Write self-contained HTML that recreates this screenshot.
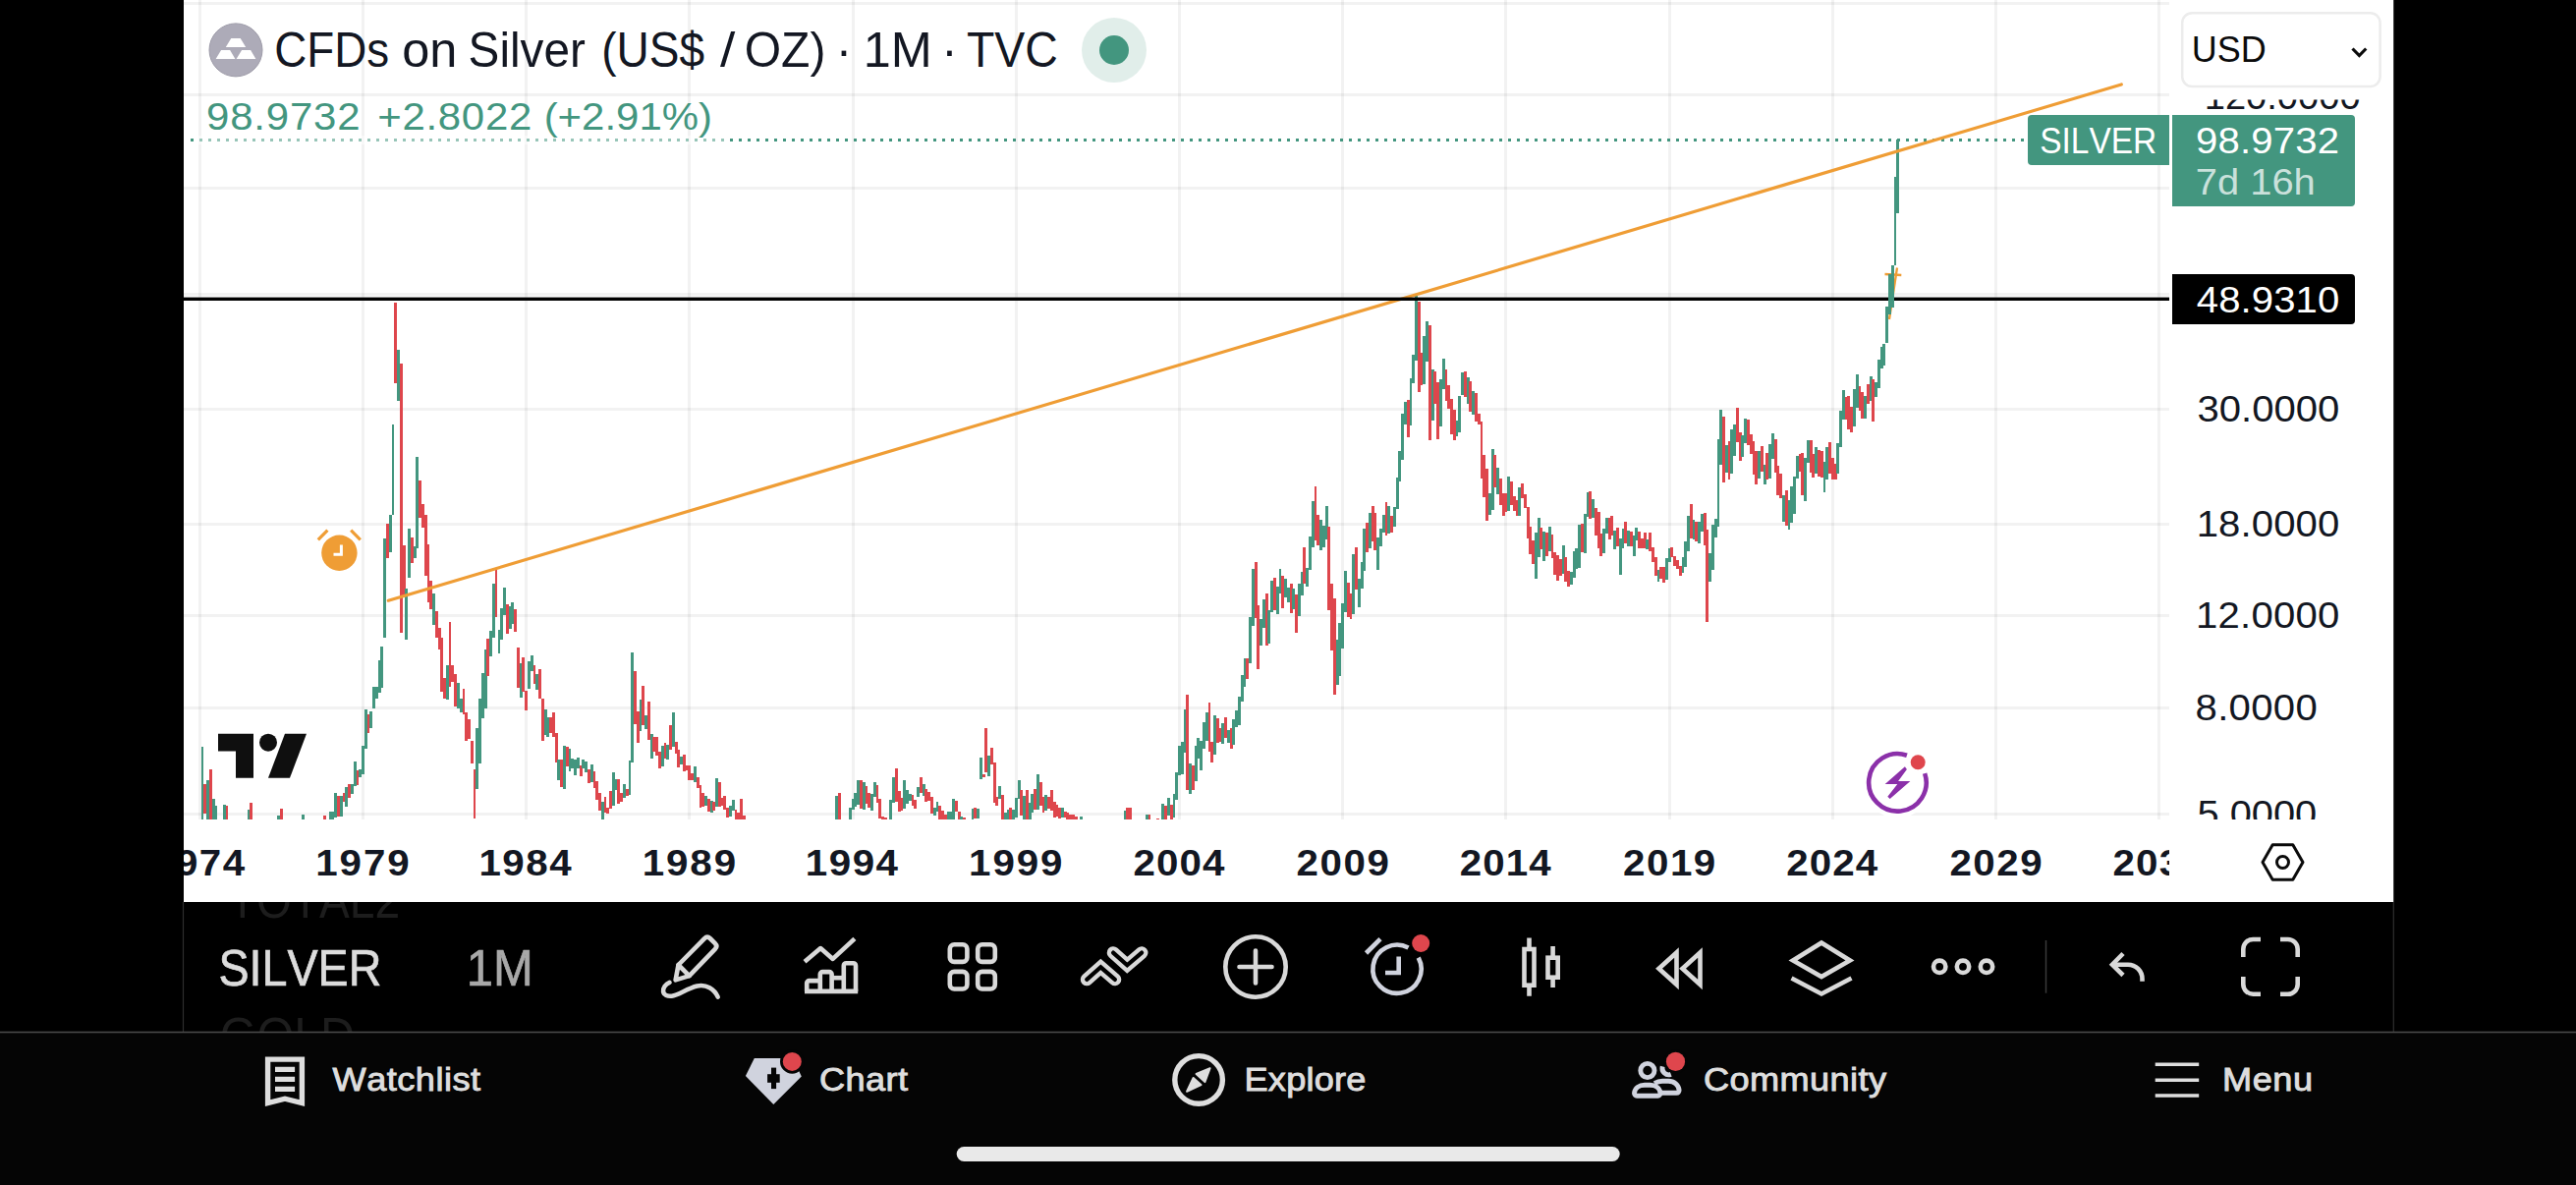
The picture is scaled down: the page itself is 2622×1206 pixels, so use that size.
<!DOCTYPE html>
<html lang="en"><head><meta charset="utf-8"><title>CFDs on Silver</title>
<style>html,body{margin:0;padding:0;background:#000;}body{width:2622px;height:1206px;overflow:hidden;}</style></head>
<body>
<svg width="2622" height="1206" viewBox="0 0 2622 1206" font-family="'Liberation Sans', sans-serif" style="display:block;font-kerning:none;font-variant-ligatures:none">
<defs>
<clipPath id="plot"><rect x="187" y="0" width="2021" height="834"/></clipPath>
<clipPath id="taxis"><rect x="187" y="834" width="2021" height="84"/></clipPath>
<clipPath id="paxis"><rect x="2208" y="101.4" width="228.25" height="732.6"/></clipPath>
<clipPath id="tb"><rect x="187" y="918" width="2249.25" height="132"/></clipPath>
</defs>
<rect width="2622" height="1206" fill="#000"/>
<rect x="187" y="0" width="2249.25" height="918" fill="#fff"/>
<g clip-path="url(#plot)" fill="rgba(20,20,24,0.055)" shape-rendering="crispEdges">
<rect x="202" y="0" width="3" height="834"/>
<rect x="368" y="0" width="3" height="834"/>
<rect x="534" y="0" width="3" height="834"/>
<rect x="700" y="0" width="3" height="834"/>
<rect x="867" y="0" width="3" height="834"/>
<rect x="1033" y="0" width="3" height="834"/>
<rect x="1199" y="0" width="3" height="834"/>
<rect x="1365" y="0" width="3" height="834"/>
<rect x="1531" y="0" width="3" height="834"/>
<rect x="1698" y="0" width="3" height="834"/>
<rect x="1864" y="0" width="3" height="834"/>
<rect x="2030" y="0" width="3" height="834"/>
<rect x="2196" y="0" width="3" height="834"/>
<rect x="187" y="2" width="2021" height="3"/>
<rect x="187" y="95" width="2021" height="3"/>
<rect x="187" y="190" width="2021" height="3"/>
<rect x="187" y="298" width="2021" height="3"/>
<rect x="187" y="415" width="2021" height="3"/>
<rect x="187" y="532" width="2021" height="3"/>
<rect x="187" y="625" width="2021" height="3"/>
<rect x="187" y="719" width="2021" height="3"/>
<rect x="187" y="827" width="2021" height="3"/>
</g>
<line x1="194" y1="142.5" x2="2064" y2="142.5" stroke="#43967f" stroke-width="3" stroke-dasharray="3 6"/>
<rect x="200" y="138" width="542" height="9" fill="#fff" opacity="0.45"/>
<g clip-path="url(#plot)" shape-rendering="crispEdges">
<rect x="205.32" y="760.3" width="1.5" height="73.6" fill="#43967f"/>
<rect x="207.39" y="798.1" width="2.9" height="29.7" fill="#de464c"/>
<rect x="210.16" y="794.1" width="2.9" height="39.8" fill="#43967f"/>
<rect x="212.93" y="783.3" width="2.9" height="50.6" fill="#de464c"/>
<rect x="215.70" y="813.0" width="2.9" height="20.9" fill="#43967f"/>
<rect x="218.47" y="820.4" width="2.9" height="13.5" fill="#43967f"/>
<rect x="226.78" y="819.0" width="2.9" height="14.8" fill="#43967f"/>
<rect x="229.55" y="820.4" width="2.9" height="13.5" fill="#de464c"/>
<rect x="251.71" y="824.2" width="2.9" height="9.7" fill="#43967f"/>
<rect x="254.48" y="817.0" width="2.9" height="16.9" fill="#de464c"/>
<rect x="282.18" y="829.8" width="2.9" height="4.0" fill="#43967f"/>
<rect x="284.95" y="823.1" width="2.9" height="10.8" fill="#de464c"/>
<rect x="307.11" y="829.2" width="2.9" height="4.7" fill="#43967f"/>
<rect x="329.27" y="830.1" width="2.9" height="3.8" fill="#de464c"/>
<rect x="334.81" y="826.2" width="2.9" height="7.7" fill="#43967f"/>
<rect x="337.58" y="826.2" width="2.9" height="7.7" fill="#43967f"/>
<rect x="340.35" y="806.9" width="2.9" height="25.0" fill="#43967f"/>
<rect x="343.12" y="810.3" width="2.9" height="20.9" fill="#de464c"/>
<rect x="345.89" y="810.3" width="2.9" height="20.2" fill="#43967f"/>
<rect x="348.66" y="806.9" width="2.9" height="9.4" fill="#de464c"/>
<rect x="351.43" y="801.2" width="2.9" height="19.4" fill="#43967f"/>
<rect x="354.20" y="798.1" width="2.9" height="13.5" fill="#de464c"/>
<rect x="356.97" y="798.1" width="2.9" height="10.1" fill="#43967f"/>
<rect x="359.74" y="775.2" width="2.9" height="24.3" fill="#43967f"/>
<rect x="362.51" y="783.9" width="2.9" height="14.8" fill="#de464c"/>
<rect x="365.28" y="783.3" width="2.9" height="8.1" fill="#43967f"/>
<rect x="368.05" y="759.4" width="2.9" height="28.6" fill="#43967f"/>
<rect x="370.82" y="722.1" width="2.9" height="40.2" fill="#43967f"/>
<rect x="373.59" y="727.0" width="2.9" height="18.8" fill="#de464c"/>
<rect x="376.36" y="724.3" width="2.9" height="16.5" fill="#43967f"/>
<rect x="379.13" y="699.3" width="2.9" height="21.2" fill="#43967f"/>
<rect x="381.90" y="699.3" width="2.9" height="11.5" fill="#43967f"/>
<rect x="384.67" y="671.9" width="2.9" height="32.8" fill="#43967f"/>
<rect x="387.44" y="658.1" width="2.9" height="41.4" fill="#43967f"/>
<rect x="390.21" y="548.0" width="2.9" height="100.8" fill="#43967f"/>
<rect x="392.98" y="533.2" width="2.9" height="34.6" fill="#de464c"/>
<rect x="395.75" y="524.2" width="2.9" height="37.6" fill="#43967f"/>
<rect x="398.52" y="432.1" width="2.9" height="91.5" fill="#43967f"/>
<rect x="401.29" y="308.2" width="2.9" height="81.7" fill="#de464c"/>
<rect x="404.06" y="356.1" width="2.9" height="51.7" fill="#43967f"/>
<rect x="406.83" y="370.1" width="2.9" height="273.7" fill="#de464c"/>
<rect x="409.60" y="555.1" width="2.9" height="51.5" fill="#de464c"/>
<rect x="412.37" y="599.2" width="2.9" height="51.7" fill="#43967f"/>
<rect x="415.14" y="537.9" width="2.9" height="49.8" fill="#43967f"/>
<rect x="417.91" y="547.2" width="2.9" height="25.7" fill="#de464c"/>
<rect x="420.68" y="556.0" width="2.9" height="11.8" fill="#43967f"/>
<rect x="423.45" y="465.2" width="2.9" height="92.5" fill="#43967f"/>
<rect x="426.22" y="489.3" width="2.9" height="37.6" fill="#de464c"/>
<rect x="428.99" y="513.3" width="2.9" height="23.6" fill="#de464c"/>
<rect x="431.76" y="523.6" width="2.9" height="62.5" fill="#de464c"/>
<rect x="434.53" y="554.3" width="2.9" height="58.2" fill="#de464c"/>
<rect x="437.30" y="590.6" width="2.9" height="29.2" fill="#de464c"/>
<rect x="440.07" y="604.4" width="2.9" height="31.4" fill="#43967f"/>
<rect x="442.84" y="621.5" width="2.9" height="27.4" fill="#de464c"/>
<rect x="445.61" y="638.7" width="2.9" height="21.9" fill="#de464c"/>
<rect x="448.38" y="649.3" width="2.9" height="54.9" fill="#de464c"/>
<rect x="451.15" y="690.3" width="2.9" height="20.6" fill="#de464c"/>
<rect x="453.92" y="677.1" width="2.9" height="34.6" fill="#43967f"/>
<rect x="457.39" y="633.2" width="1.5" height="65.8" fill="#de464c"/>
<rect x="459.46" y="677.1" width="2.9" height="16.9" fill="#de464c"/>
<rect x="462.23" y="686.1" width="2.9" height="32.9" fill="#de464c"/>
<rect x="465.00" y="694.9" width="2.9" height="26.2" fill="#43967f"/>
<rect x="467.77" y="711.2" width="2.9" height="13.5" fill="#43967f"/>
<rect x="470.54" y="701.1" width="2.9" height="25.8" fill="#de464c"/>
<rect x="473.31" y="725.3" width="2.9" height="28.7" fill="#de464c"/>
<rect x="476.08" y="732.0" width="2.9" height="19.8" fill="#de464c"/>
<rect x="478.85" y="754.3" width="2.9" height="22.8" fill="#de464c"/>
<rect x="482.32" y="783.2" width="1.5" height="49.6" fill="#de464c"/>
<rect x="484.39" y="740.5" width="2.9" height="62.5" fill="#43967f"/>
<rect x="487.16" y="710.9" width="2.9" height="65.8" fill="#43967f"/>
<rect x="489.93" y="685.2" width="2.9" height="45.9" fill="#43967f"/>
<rect x="492.70" y="661.1" width="2.9" height="59.9" fill="#43967f"/>
<rect x="495.47" y="650.1" width="2.9" height="37.6" fill="#de464c"/>
<rect x="498.24" y="641.7" width="2.9" height="26.2" fill="#43967f"/>
<rect x="501.01" y="593.5" width="2.9" height="55.0" fill="#43967f"/>
<rect x="504.48" y="579.3" width="1.5" height="48.5" fill="#de464c"/>
<rect x="506.55" y="641.2" width="2.9" height="23.6" fill="#43967f"/>
<rect x="509.32" y="619.3" width="2.9" height="32.1" fill="#43967f"/>
<rect x="512.09" y="598.2" width="2.9" height="27.4" fill="#43967f"/>
<rect x="514.86" y="615.1" width="2.9" height="29.5" fill="#de464c"/>
<rect x="517.63" y="617.1" width="2.9" height="22.5" fill="#43967f"/>
<rect x="520.40" y="613.4" width="2.9" height="21.9" fill="#43967f"/>
<rect x="523.17" y="620.1" width="2.9" height="22.5" fill="#de464c"/>
<rect x="525.94" y="659.4" width="2.9" height="40.5" fill="#de464c"/>
<rect x="528.71" y="675.1" width="2.9" height="34.4" fill="#43967f"/>
<rect x="531.48" y="669.0" width="2.9" height="35.1" fill="#de464c"/>
<rect x="534.25" y="703.3" width="2.9" height="19.4" fill="#de464c"/>
<rect x="537.02" y="672.9" width="2.9" height="27.9" fill="#43967f"/>
<rect x="539.79" y="667.0" width="2.9" height="16.0" fill="#43967f"/>
<rect x="542.56" y="677.1" width="2.9" height="18.6" fill="#de464c"/>
<rect x="545.33" y="686.4" width="2.9" height="15.2" fill="#43967f"/>
<rect x="548.10" y="681.4" width="2.9" height="29.5" fill="#de464c"/>
<rect x="550.87" y="711.2" width="2.9" height="42.7" fill="#de464c"/>
<rect x="553.64" y="722.4" width="2.9" height="25.7" fill="#43967f"/>
<rect x="556.41" y="730.3" width="2.9" height="19.4" fill="#43967f"/>
<rect x="559.18" y="730.3" width="2.9" height="16.0" fill="#de464c"/>
<rect x="561.95" y="725.3" width="2.9" height="24.5" fill="#de464c"/>
<rect x="564.72" y="746.4" width="2.9" height="29.5" fill="#de464c"/>
<rect x="567.49" y="772.5" width="2.9" height="21.4" fill="#43967f"/>
<rect x="570.26" y="773.4" width="2.9" height="27.9" fill="#de464c"/>
<rect x="573.03" y="759.4" width="2.9" height="43.6" fill="#43967f"/>
<rect x="575.80" y="760.2" width="2.9" height="19.9" fill="#de464c"/>
<rect x="578.57" y="762.4" width="2.9" height="22.8" fill="#43967f"/>
<rect x="581.34" y="771.7" width="2.9" height="10.1" fill="#43967f"/>
<rect x="584.11" y="772.5" width="2.9" height="16.4" fill="#43967f"/>
<rect x="586.88" y="771.4" width="2.9" height="10.5" fill="#43967f"/>
<rect x="589.65" y="779.3" width="2.9" height="10.6" fill="#de464c"/>
<rect x="592.42" y="773.4" width="2.9" height="8.4" fill="#43967f"/>
<rect x="595.19" y="775.1" width="2.9" height="11.0" fill="#43967f"/>
<rect x="597.96" y="783.2" width="2.9" height="13.8" fill="#de464c"/>
<rect x="600.73" y="778.4" width="2.9" height="17.7" fill="#43967f"/>
<rect x="603.50" y="785.2" width="2.9" height="16.9" fill="#de464c"/>
<rect x="606.27" y="795.3" width="2.9" height="18.6" fill="#de464c"/>
<rect x="609.04" y="807.1" width="2.9" height="17.7" fill="#de464c"/>
<rect x="611.81" y="815.9" width="2.9" height="17.9" fill="#43967f"/>
<rect x="614.58" y="811.4" width="2.9" height="15.2" fill="#de464c"/>
<rect x="617.35" y="822.3" width="2.9" height="5.4" fill="#de464c"/>
<rect x="620.12" y="805.1" width="2.9" height="18.1" fill="#de464c"/>
<rect x="622.89" y="786.0" width="2.9" height="33.8" fill="#43967f"/>
<rect x="625.66" y="792.8" width="2.9" height="11.0" fill="#43967f"/>
<rect x="628.43" y="793.3" width="2.9" height="24.3" fill="#de464c"/>
<rect x="631.20" y="807.1" width="2.9" height="8.8" fill="#de464c"/>
<rect x="633.97" y="798.2" width="2.9" height="13.7" fill="#43967f"/>
<rect x="636.74" y="803.4" width="2.9" height="6.2" fill="#de464c"/>
<rect x="639.51" y="774.2" width="2.9" height="34.6" fill="#43967f"/>
<rect x="642.28" y="664.1" width="2.9" height="111.4" fill="#43967f"/>
<rect x="645.05" y="683.1" width="2.9" height="54.0" fill="#de464c"/>
<rect x="647.82" y="723.9" width="2.9" height="31.7" fill="#de464c"/>
<rect x="650.59" y="712.3" width="2.9" height="31.6" fill="#43967f"/>
<rect x="653.36" y="698.2" width="2.9" height="39.7" fill="#de464c"/>
<rect x="656.13" y="728.1" width="2.9" height="13.7" fill="#43967f"/>
<rect x="658.90" y="713.9" width="2.9" height="38.8" fill="#de464c"/>
<rect x="661.67" y="747.2" width="2.9" height="24.5" fill="#43967f"/>
<rect x="664.44" y="750.1" width="2.9" height="14.5" fill="#de464c"/>
<rect x="667.21" y="750.1" width="2.9" height="18.6" fill="#de464c"/>
<rect x="669.98" y="764.9" width="2.9" height="16.9" fill="#de464c"/>
<rect x="672.75" y="759.0" width="2.9" height="20.8" fill="#43967f"/>
<rect x="675.52" y="756.2" width="2.9" height="15.9" fill="#de464c"/>
<rect x="678.29" y="758.2" width="2.9" height="14.9" fill="#43967f"/>
<rect x="681.06" y="738.3" width="2.9" height="24.6" fill="#de464c"/>
<rect x="683.83" y="725.3" width="2.9" height="34.6" fill="#43967f"/>
<rect x="686.60" y="754.5" width="2.9" height="12.2" fill="#de464c"/>
<rect x="689.37" y="763.2" width="2.9" height="17.7" fill="#de464c"/>
<rect x="692.14" y="770.0" width="2.9" height="8.1" fill="#43967f"/>
<rect x="694.91" y="768.3" width="2.9" height="16.5" fill="#de464c"/>
<rect x="697.68" y="778.8" width="2.9" height="4.7" fill="#de464c"/>
<rect x="700.45" y="779.3" width="2.9" height="14.7" fill="#de464c"/>
<rect x="703.22" y="786.5" width="2.9" height="7.1" fill="#de464c"/>
<rect x="705.99" y="780.1" width="2.9" height="15.7" fill="#43967f"/>
<rect x="708.76" y="791.1" width="2.9" height="11.0" fill="#de464c"/>
<rect x="711.53" y="799.0" width="2.9" height="23.0" fill="#de464c"/>
<rect x="714.30" y="807.1" width="2.9" height="13.8" fill="#de464c"/>
<rect x="717.07" y="810.2" width="2.9" height="9.6" fill="#43967f"/>
<rect x="719.84" y="813.1" width="2.9" height="13.0" fill="#de464c"/>
<rect x="722.61" y="815.2" width="2.9" height="11.8" fill="#43967f"/>
<rect x="725.38" y="815.9" width="2.9" height="8.9" fill="#de464c"/>
<rect x="728.15" y="792.3" width="2.9" height="28.4" fill="#43967f"/>
<rect x="730.92" y="796.2" width="2.9" height="24.5" fill="#de464c"/>
<rect x="733.69" y="812.2" width="2.9" height="8.1" fill="#de464c"/>
<rect x="736.46" y="810.2" width="2.9" height="13.5" fill="#de464c"/>
<rect x="739.23" y="821.5" width="2.9" height="10.6" fill="#de464c"/>
<rect x="742.00" y="820.3" width="2.9" height="10.5" fill="#43967f"/>
<rect x="744.77" y="814.2" width="2.9" height="10.6" fill="#43967f"/>
<rect x="747.54" y="824.0" width="2.9" height="9.8" fill="#de464c"/>
<rect x="750.31" y="827.1" width="2.9" height="6.8" fill="#de464c"/>
<rect x="753.08" y="813.1" width="2.9" height="20.8" fill="#de464c"/>
<rect x="755.85" y="830.4" width="2.9" height="3.4" fill="#de464c"/>
<rect x="850.03" y="810.2" width="2.9" height="23.6" fill="#43967f"/>
<rect x="852.80" y="807.1" width="2.9" height="26.7" fill="#de464c"/>
<rect x="863.88" y="822.3" width="2.9" height="11.5" fill="#43967f"/>
<rect x="866.65" y="813.1" width="2.9" height="11.0" fill="#43967f"/>
<rect x="869.42" y="807.1" width="2.9" height="13.5" fill="#43967f"/>
<rect x="872.19" y="794.0" width="2.9" height="25.3" fill="#43967f"/>
<rect x="874.96" y="794.0" width="2.9" height="29.2" fill="#de464c"/>
<rect x="877.73" y="796.2" width="2.9" height="27.9" fill="#43967f"/>
<rect x="880.50" y="800.1" width="2.9" height="18.1" fill="#de464c"/>
<rect x="883.27" y="807.1" width="2.9" height="14.9" fill="#de464c"/>
<rect x="886.04" y="807.5" width="2.9" height="17.4" fill="#43967f"/>
<rect x="888.81" y="796.2" width="2.9" height="14.4" fill="#43967f"/>
<rect x="891.58" y="799.0" width="2.9" height="17.9" fill="#de464c"/>
<rect x="894.35" y="813.1" width="2.9" height="19.8" fill="#de464c"/>
<rect x="897.12" y="831.1" width="2.9" height="2.7" fill="#de464c"/>
<rect x="899.89" y="832.1" width="2.9" height="1.7" fill="#de464c"/>
<rect x="905.43" y="814.2" width="2.9" height="19.6" fill="#43967f"/>
<rect x="908.20" y="791.1" width="2.9" height="25.8" fill="#43967f"/>
<rect x="910.97" y="782.2" width="2.9" height="33.4" fill="#de464c"/>
<rect x="913.74" y="804.6" width="2.9" height="21.4" fill="#de464c"/>
<rect x="916.51" y="812.2" width="2.9" height="12.7" fill="#de464c"/>
<rect x="919.28" y="794.0" width="2.9" height="29.2" fill="#43967f"/>
<rect x="922.05" y="803.8" width="2.9" height="14.4" fill="#43967f"/>
<rect x="924.82" y="808.0" width="2.9" height="6.8" fill="#43967f"/>
<rect x="927.59" y="809.3" width="2.9" height="10.5" fill="#de464c"/>
<rect x="930.36" y="814.2" width="2.9" height="8.9" fill="#de464c"/>
<rect x="933.13" y="801.2" width="2.9" height="9.6" fill="#43967f"/>
<rect x="935.90" y="791.1" width="2.9" height="16.0" fill="#de464c"/>
<rect x="938.67" y="798.2" width="2.9" height="11.5" fill="#43967f"/>
<rect x="941.44" y="803.3" width="2.9" height="12.7" fill="#de464c"/>
<rect x="944.21" y="806.3" width="2.9" height="8.9" fill="#de464c"/>
<rect x="946.98" y="811.4" width="2.9" height="16.9" fill="#de464c"/>
<rect x="949.75" y="821.5" width="2.9" height="8.4" fill="#43967f"/>
<rect x="952.52" y="815.9" width="2.9" height="9.8" fill="#43967f"/>
<rect x="955.29" y="820.3" width="2.9" height="13.5" fill="#de464c"/>
<rect x="958.06" y="825.4" width="2.9" height="8.4" fill="#de464c"/>
<rect x="960.83" y="829.1" width="2.9" height="4.7" fill="#de464c"/>
<rect x="963.60" y="826.1" width="2.9" height="7.8" fill="#43967f"/>
<rect x="966.37" y="826.1" width="2.9" height="7.8" fill="#43967f"/>
<rect x="969.14" y="813.1" width="2.9" height="20.8" fill="#43967f"/>
<rect x="971.91" y="815.2" width="2.9" height="10.8" fill="#de464c"/>
<rect x="974.68" y="826.1" width="2.9" height="7.8" fill="#de464c"/>
<rect x="977.45" y="831.1" width="2.9" height="2.7" fill="#43967f"/>
<rect x="980.22" y="832.1" width="2.9" height="1.7" fill="#de464c"/>
<rect x="988.53" y="823.2" width="2.9" height="10.6" fill="#43967f"/>
<rect x="991.30" y="822.3" width="2.9" height="10.5" fill="#de464c"/>
<rect x="994.07" y="823.2" width="2.9" height="9.6" fill="#43967f"/>
<rect x="996.84" y="771.2" width="2.9" height="21.6" fill="#43967f"/>
<rect x="999.61" y="788.2" width="2.9" height="2.5" fill="#de464c"/>
<rect x="1002.38" y="741.3" width="2.9" height="44.2" fill="#de464c"/>
<rect x="1005.15" y="769.2" width="2.9" height="20.6" fill="#43967f"/>
<rect x="1007.92" y="761.1" width="2.9" height="16.5" fill="#de464c"/>
<rect x="1010.69" y="776.4" width="2.9" height="40.5" fill="#de464c"/>
<rect x="1013.46" y="811.4" width="2.9" height="8.4" fill="#de464c"/>
<rect x="1016.23" y="800.1" width="2.9" height="13.0" fill="#43967f"/>
<rect x="1019.00" y="809.3" width="2.9" height="24.5" fill="#de464c"/>
<rect x="1021.77" y="826.6" width="2.9" height="7.3" fill="#43967f"/>
<rect x="1024.54" y="824.0" width="2.9" height="9.8" fill="#43967f"/>
<rect x="1027.31" y="821.5" width="2.9" height="12.3" fill="#de464c"/>
<rect x="1030.08" y="824.4" width="2.9" height="9.5" fill="#43967f"/>
<rect x="1032.85" y="812.2" width="2.9" height="19.4" fill="#43967f"/>
<rect x="1035.62" y="794.0" width="2.9" height="19.1" fill="#43967f"/>
<rect x="1038.39" y="804.1" width="2.9" height="25.8" fill="#de464c"/>
<rect x="1041.16" y="810.2" width="2.9" height="23.6" fill="#43967f"/>
<rect x="1043.93" y="804.1" width="2.9" height="29.7" fill="#de464c"/>
<rect x="1046.70" y="817.3" width="2.9" height="16.5" fill="#43967f"/>
<rect x="1049.47" y="808.3" width="2.9" height="18.7" fill="#43967f"/>
<rect x="1052.24" y="803.3" width="2.9" height="20.8" fill="#de464c"/>
<rect x="1055.01" y="788.2" width="2.9" height="35.5" fill="#43967f"/>
<rect x="1057.78" y="796.2" width="2.9" height="23.6" fill="#de464c"/>
<rect x="1060.55" y="811.4" width="2.9" height="15.2" fill="#de464c"/>
<rect x="1063.32" y="809.3" width="2.9" height="16.0" fill="#43967f"/>
<rect x="1066.09" y="810.5" width="2.9" height="12.7" fill="#de464c"/>
<rect x="1068.86" y="804.1" width="2.9" height="20.8" fill="#de464c"/>
<rect x="1071.63" y="816.4" width="2.9" height="15.2" fill="#de464c"/>
<rect x="1074.40" y="819.3" width="2.9" height="11.5" fill="#de464c"/>
<rect x="1077.17" y="822.3" width="2.9" height="10.5" fill="#de464c"/>
<rect x="1079.94" y="822.3" width="2.9" height="10.1" fill="#43967f"/>
<rect x="1082.71" y="826.1" width="2.9" height="5.6" fill="#de464c"/>
<rect x="1085.48" y="827.4" width="2.9" height="6.4" fill="#de464c"/>
<rect x="1088.25" y="829.1" width="2.9" height="4.7" fill="#de464c"/>
<rect x="1091.02" y="829.4" width="2.9" height="4.4" fill="#de464c"/>
<rect x="1093.79" y="831.1" width="2.9" height="2.7" fill="#de464c"/>
<rect x="1099.33" y="831.1" width="2.9" height="2.7" fill="#43967f"/>
<rect x="1143.65" y="825.4" width="2.9" height="8.4" fill="#43967f"/>
<rect x="1146.42" y="821.5" width="2.9" height="12.3" fill="#de464c"/>
<rect x="1149.19" y="821.5" width="2.9" height="12.3" fill="#de464c"/>
<rect x="1165.81" y="829.1" width="2.9" height="4.7" fill="#43967f"/>
<rect x="1168.58" y="829.4" width="2.9" height="4.4" fill="#de464c"/>
<rect x="1176.89" y="832.8" width="2.9" height="1.0" fill="#de464c"/>
<rect x="1182.43" y="818.1" width="2.9" height="15.7" fill="#43967f"/>
<rect x="1185.20" y="820.3" width="2.9" height="13.5" fill="#de464c"/>
<rect x="1187.97" y="812.2" width="2.9" height="17.7" fill="#43967f"/>
<rect x="1190.74" y="819.3" width="2.9" height="14.5" fill="#de464c"/>
<rect x="1193.51" y="808.3" width="2.9" height="23.3" fill="#43967f"/>
<rect x="1196.28" y="786.4" width="2.9" height="27.5" fill="#43967f"/>
<rect x="1199.05" y="759.4" width="2.9" height="29.2" fill="#43967f"/>
<rect x="1201.82" y="755.3" width="2.9" height="32.4" fill="#43967f"/>
<rect x="1204.59" y="722.2" width="2.9" height="43.6" fill="#43967f"/>
<rect x="1207.36" y="707.2" width="2.9" height="96.6" fill="#de464c"/>
<rect x="1210.13" y="777.1" width="2.9" height="30.9" fill="#43967f"/>
<rect x="1212.90" y="779.3" width="2.9" height="24.5" fill="#de464c"/>
<rect x="1215.67" y="759.4" width="2.9" height="35.1" fill="#43967f"/>
<rect x="1218.44" y="751.1" width="2.9" height="20.6" fill="#43967f"/>
<rect x="1221.21" y="753.5" width="2.9" height="30.4" fill="#43967f"/>
<rect x="1223.98" y="735.4" width="2.9" height="26.2" fill="#43967f"/>
<rect x="1226.75" y="725.3" width="2.9" height="28.2" fill="#43967f"/>
<rect x="1229.52" y="715.1" width="2.9" height="49.8" fill="#de464c"/>
<rect x="1232.29" y="755.3" width="2.9" height="20.6" fill="#de464c"/>
<rect x="1235.06" y="728.1" width="2.9" height="39.7" fill="#43967f"/>
<rect x="1237.83" y="731.2" width="2.9" height="24.5" fill="#de464c"/>
<rect x="1240.60" y="740.5" width="2.9" height="14.4" fill="#de464c"/>
<rect x="1243.37" y="736.2" width="2.9" height="20.6" fill="#43967f"/>
<rect x="1246.14" y="730.3" width="2.9" height="20.3" fill="#de464c"/>
<rect x="1248.91" y="743.3" width="2.9" height="12.3" fill="#43967f"/>
<rect x="1251.68" y="740.5" width="2.9" height="21.4" fill="#de464c"/>
<rect x="1254.45" y="732.4" width="2.9" height="25.3" fill="#43967f"/>
<rect x="1257.22" y="723.2" width="2.9" height="16.4" fill="#43967f"/>
<rect x="1259.99" y="709.2" width="2.9" height="28.4" fill="#43967f"/>
<rect x="1262.76" y="687.3" width="2.9" height="26.2" fill="#43967f"/>
<rect x="1265.53" y="670.4" width="2.9" height="29.0" fill="#43967f"/>
<rect x="1268.30" y="670.4" width="2.9" height="20.3" fill="#de464c"/>
<rect x="1271.07" y="628.1" width="2.9" height="47.3" fill="#43967f"/>
<rect x="1273.84" y="579.2" width="2.9" height="57.4" fill="#43967f"/>
<rect x="1276.61" y="571.9" width="2.9" height="57.1" fill="#de464c"/>
<rect x="1279.38" y="616.3" width="2.9" height="64.5" fill="#de464c"/>
<rect x="1282.15" y="630.3" width="2.9" height="26.2" fill="#43967f"/>
<rect x="1284.92" y="610.1" width="2.9" height="29.0" fill="#43967f"/>
<rect x="1287.69" y="604.0" width="2.9" height="52.5" fill="#de464c"/>
<rect x="1290.46" y="621.4" width="2.9" height="33.3" fill="#43967f"/>
<rect x="1293.23" y="591.0" width="2.9" height="32.1" fill="#43967f"/>
<rect x="1296.00" y="588.1" width="2.9" height="32.4" fill="#de464c"/>
<rect x="1298.77" y="597.2" width="2.9" height="27.5" fill="#43967f"/>
<rect x="1301.54" y="579.2" width="2.9" height="24.5" fill="#43967f"/>
<rect x="1304.31" y="586.4" width="2.9" height="32.4" fill="#de464c"/>
<rect x="1307.08" y="589.3" width="2.9" height="18.6" fill="#43967f"/>
<rect x="1309.85" y="598.2" width="2.9" height="14.7" fill="#43967f"/>
<rect x="1312.62" y="593.8" width="2.9" height="30.1" fill="#de464c"/>
<rect x="1315.39" y="599.1" width="2.9" height="20.6" fill="#43967f"/>
<rect x="1318.16" y="605.3" width="2.9" height="38.5" fill="#de464c"/>
<rect x="1320.93" y="594.4" width="2.9" height="32.6" fill="#43967f"/>
<rect x="1323.70" y="582.0" width="2.9" height="23.6" fill="#43967f"/>
<rect x="1326.47" y="556.9" width="2.9" height="37.0" fill="#de464c"/>
<rect x="1329.24" y="577.5" width="2.9" height="19.4" fill="#43967f"/>
<rect x="1332.01" y="546.2" width="2.9" height="33.8" fill="#43967f"/>
<rect x="1334.78" y="509.9" width="2.9" height="46.8" fill="#43967f"/>
<rect x="1337.55" y="495.1" width="2.9" height="54.5" fill="#de464c"/>
<rect x="1340.32" y="523.9" width="2.9" height="31.1" fill="#de464c"/>
<rect x="1343.09" y="529.0" width="2.9" height="31.1" fill="#43967f"/>
<rect x="1345.86" y="535.3" width="2.9" height="21.9" fill="#43967f"/>
<rect x="1348.63" y="515.0" width="2.9" height="33.8" fill="#43967f"/>
<rect x="1351.40" y="536.1" width="2.9" height="84.8" fill="#de464c"/>
<rect x="1354.17" y="593.8" width="2.9" height="67.7" fill="#de464c"/>
<rect x="1356.94" y="609.0" width="2.9" height="97.6" fill="#de464c"/>
<rect x="1359.71" y="650.9" width="2.9" height="45.9" fill="#43967f"/>
<rect x="1362.48" y="634.4" width="2.9" height="53.4" fill="#43967f"/>
<rect x="1365.25" y="614.1" width="2.9" height="45.8" fill="#43967f"/>
<rect x="1368.02" y="581.2" width="2.9" height="41.9" fill="#43967f"/>
<rect x="1370.79" y="593.2" width="2.9" height="34.9" fill="#de464c"/>
<rect x="1373.56" y="604.0" width="2.9" height="26.3" fill="#de464c"/>
<rect x="1376.33" y="564.3" width="2.9" height="60.4" fill="#43967f"/>
<rect x="1379.10" y="556.9" width="2.9" height="43.1" fill="#de464c"/>
<rect x="1381.87" y="589.3" width="2.9" height="28.7" fill="#43967f"/>
<rect x="1384.64" y="572.4" width="2.9" height="27.0" fill="#43967f"/>
<rect x="1387.41" y="538.1" width="2.9" height="42.7" fill="#43967f"/>
<rect x="1390.18" y="532.2" width="2.9" height="29.5" fill="#de464c"/>
<rect x="1392.95" y="522.3" width="2.9" height="35.8" fill="#43967f"/>
<rect x="1395.72" y="515.0" width="2.9" height="36.3" fill="#de464c"/>
<rect x="1398.49" y="522.3" width="2.9" height="37.8" fill="#de464c"/>
<rect x="1401.26" y="547.1" width="2.9" height="32.9" fill="#43967f"/>
<rect x="1404.03" y="538.1" width="2.9" height="17.9" fill="#43967f"/>
<rect x="1406.80" y="523.9" width="2.9" height="18.1" fill="#43967f"/>
<rect x="1409.57" y="511.1" width="2.9" height="33.8" fill="#de464c"/>
<rect x="1412.34" y="515.0" width="2.9" height="27.9" fill="#43967f"/>
<rect x="1415.11" y="525.1" width="2.9" height="16.9" fill="#de464c"/>
<rect x="1417.88" y="516.2" width="2.9" height="19.6" fill="#43967f"/>
<rect x="1420.65" y="485.8" width="2.9" height="32.1" fill="#43967f"/>
<rect x="1423.42" y="459.3" width="2.9" height="30.9" fill="#43967f"/>
<rect x="1426.19" y="421.3" width="2.9" height="46.4" fill="#43967f"/>
<rect x="1428.96" y="409.2" width="2.9" height="22.8" fill="#43967f"/>
<rect x="1431.73" y="407.0" width="2.9" height="37.6" fill="#de464c"/>
<rect x="1434.50" y="385.2" width="2.9" height="47.6" fill="#43967f"/>
<rect x="1437.27" y="361.0" width="2.9" height="28.7" fill="#43967f"/>
<rect x="1440.04" y="299.4" width="2.9" height="67.5" fill="#43967f"/>
<rect x="1442.81" y="307.0" width="2.9" height="91.7" fill="#de464c"/>
<rect x="1445.58" y="359.0" width="2.9" height="32.8" fill="#de464c"/>
<rect x="1448.35" y="342.1" width="2.9" height="48.8" fill="#43967f"/>
<rect x="1451.12" y="326.9" width="2.9" height="40.9" fill="#43967f"/>
<rect x="1453.89" y="330.7" width="2.9" height="117.0" fill="#de464c"/>
<rect x="1456.66" y="376.2" width="2.9" height="51.8" fill="#43967f"/>
<rect x="1459.43" y="378.3" width="2.9" height="32.6" fill="#de464c"/>
<rect x="1462.20" y="388.9" width="2.9" height="57.9" fill="#de464c"/>
<rect x="1464.97" y="386.0" width="2.9" height="47.9" fill="#43967f"/>
<rect x="1467.74" y="364.9" width="2.9" height="31.1" fill="#43967f"/>
<rect x="1470.51" y="375.9" width="2.9" height="31.9" fill="#de464c"/>
<rect x="1473.28" y="391.9" width="2.9" height="24.0" fill="#de464c"/>
<rect x="1476.05" y="406.3" width="2.9" height="35.5" fill="#de464c"/>
<rect x="1478.82" y="416.8" width="2.9" height="30.9" fill="#de464c"/>
<rect x="1481.59" y="428.2" width="2.9" height="15.5" fill="#43967f"/>
<rect x="1484.36" y="403.2" width="2.9" height="36.3" fill="#43967f"/>
<rect x="1487.13" y="379.3" width="2.9" height="22.6" fill="#43967f"/>
<rect x="1489.90" y="377.9" width="2.9" height="25.8" fill="#de464c"/>
<rect x="1492.67" y="384.2" width="2.9" height="26.7" fill="#43967f"/>
<rect x="1495.44" y="388.1" width="2.9" height="30.7" fill="#de464c"/>
<rect x="1498.21" y="398.2" width="2.9" height="23.6" fill="#43967f"/>
<rect x="1500.98" y="399.9" width="2.9" height="29.0" fill="#de464c"/>
<rect x="1503.75" y="421.0" width="2.9" height="11.0" fill="#de464c"/>
<rect x="1506.52" y="428.9" width="2.9" height="57.6" fill="#de464c"/>
<rect x="1509.29" y="463.1" width="2.9" height="42.7" fill="#de464c"/>
<rect x="1512.06" y="477.1" width="2.9" height="52.7" fill="#de464c"/>
<rect x="1514.83" y="502.1" width="2.9" height="21.8" fill="#43967f"/>
<rect x="1517.60" y="456.9" width="2.9" height="62.1" fill="#43967f"/>
<rect x="1520.37" y="463.1" width="2.9" height="32.6" fill="#de464c"/>
<rect x="1523.14" y="476.0" width="2.9" height="26.8" fill="#43967f"/>
<rect x="1525.91" y="487.3" width="2.9" height="26.5" fill="#de464c"/>
<rect x="1528.68" y="502.1" width="2.9" height="22.6" fill="#de464c"/>
<rect x="1531.45" y="502.1" width="2.9" height="18.6" fill="#de464c"/>
<rect x="1534.22" y="485.1" width="2.9" height="34.6" fill="#43967f"/>
<rect x="1536.99" y="490.1" width="2.9" height="23.6" fill="#de464c"/>
<rect x="1539.76" y="504.7" width="2.9" height="15.2" fill="#de464c"/>
<rect x="1542.53" y="508.9" width="2.9" height="15.9" fill="#de464c"/>
<rect x="1545.30" y="496.1" width="2.9" height="28.7" fill="#43967f"/>
<rect x="1548.07" y="492.0" width="2.9" height="14.7" fill="#de464c"/>
<rect x="1550.84" y="503.0" width="2.9" height="13.8" fill="#de464c"/>
<rect x="1553.61" y="515.5" width="2.9" height="32.1" fill="#de464c"/>
<rect x="1556.38" y="536.2" width="2.9" height="27.5" fill="#de464c"/>
<rect x="1559.15" y="550.1" width="2.9" height="24.1" fill="#de464c"/>
<rect x="1561.92" y="542.1" width="2.9" height="46.8" fill="#43967f"/>
<rect x="1564.69" y="527.3" width="2.9" height="39.3" fill="#43967f"/>
<rect x="1567.46" y="537.1" width="2.9" height="21.9" fill="#de464c"/>
<rect x="1570.23" y="541.3" width="2.9" height="29.5" fill="#43967f"/>
<rect x="1573.00" y="542.1" width="2.9" height="23.6" fill="#de464c"/>
<rect x="1575.77" y="536.2" width="2.9" height="24.5" fill="#43967f"/>
<rect x="1578.54" y="544.2" width="2.9" height="23.6" fill="#de464c"/>
<rect x="1581.31" y="561.9" width="2.9" height="23.0" fill="#de464c"/>
<rect x="1584.08" y="564.9" width="2.9" height="25.8" fill="#de464c"/>
<rect x="1586.85" y="569.2" width="2.9" height="16.9" fill="#de464c"/>
<rect x="1589.62" y="555.3" width="2.9" height="28.2" fill="#43967f"/>
<rect x="1592.39" y="567.1" width="2.9" height="24.8" fill="#de464c"/>
<rect x="1595.16" y="581.0" width="2.9" height="16.0" fill="#de464c"/>
<rect x="1597.93" y="582.2" width="2.9" height="12.7" fill="#43967f"/>
<rect x="1600.70" y="561.1" width="2.9" height="27.2" fill="#43967f"/>
<rect x="1603.47" y="558.2" width="2.9" height="20.8" fill="#43967f"/>
<rect x="1606.24" y="534.2" width="2.9" height="43.7" fill="#43967f"/>
<rect x="1609.01" y="532.9" width="2.9" height="29.0" fill="#de464c"/>
<rect x="1611.78" y="523.1" width="2.9" height="39.7" fill="#43967f"/>
<rect x="1614.55" y="501.1" width="2.9" height="25.0" fill="#43967f"/>
<rect x="1617.32" y="499.9" width="2.9" height="27.9" fill="#de464c"/>
<rect x="1620.09" y="508.0" width="2.9" height="18.9" fill="#43967f"/>
<rect x="1622.86" y="517.2" width="2.9" height="27.5" fill="#de464c"/>
<rect x="1625.63" y="521.0" width="2.9" height="37.1" fill="#de464c"/>
<rect x="1628.40" y="543.0" width="2.9" height="22.8" fill="#de464c"/>
<rect x="1631.17" y="538.3" width="2.9" height="24.5" fill="#43967f"/>
<rect x="1633.94" y="527.3" width="2.9" height="15.4" fill="#43967f"/>
<rect x="1636.71" y="526.9" width="2.9" height="21.9" fill="#de464c"/>
<rect x="1639.48" y="524.9" width="2.9" height="20.1" fill="#de464c"/>
<rect x="1642.25" y="539.9" width="2.9" height="19.1" fill="#43967f"/>
<rect x="1645.02" y="537.1" width="2.9" height="19.1" fill="#de464c"/>
<rect x="1647.79" y="548.1" width="2.9" height="36.8" fill="#43967f"/>
<rect x="1650.56" y="538.3" width="2.9" height="19.4" fill="#43967f"/>
<rect x="1653.33" y="531.2" width="2.9" height="21.4" fill="#de464c"/>
<rect x="1656.10" y="540.1" width="2.9" height="15.9" fill="#43967f"/>
<rect x="1658.87" y="541.0" width="2.9" height="15.0" fill="#de464c"/>
<rect x="1661.64" y="545.0" width="2.9" height="20.8" fill="#43967f"/>
<rect x="1664.41" y="537.1" width="2.9" height="12.7" fill="#43967f"/>
<rect x="1667.18" y="541.0" width="2.9" height="17.2" fill="#de464c"/>
<rect x="1669.95" y="548.1" width="2.9" height="10.1" fill="#de464c"/>
<rect x="1672.72" y="542.1" width="2.9" height="16.0" fill="#de464c"/>
<rect x="1675.49" y="548.9" width="2.9" height="10.1" fill="#43967f"/>
<rect x="1678.26" y="542.1" width="2.9" height="18.6" fill="#de464c"/>
<rect x="1681.03" y="557.0" width="2.9" height="15.0" fill="#de464c"/>
<rect x="1683.80" y="567.1" width="2.9" height="18.9" fill="#de464c"/>
<rect x="1686.57" y="579.8" width="2.9" height="12.2" fill="#43967f"/>
<rect x="1689.34" y="577.1" width="2.9" height="11.8" fill="#de464c"/>
<rect x="1692.11" y="577.1" width="2.9" height="16.0" fill="#de464c"/>
<rect x="1694.88" y="568.3" width="2.9" height="21.6" fill="#43967f"/>
<rect x="1697.65" y="558.2" width="2.9" height="13.8" fill="#43967f"/>
<rect x="1700.42" y="557.0" width="2.9" height="10.0" fill="#de464c"/>
<rect x="1703.19" y="566.1" width="2.9" height="9.8" fill="#de464c"/>
<rect x="1705.96" y="570.0" width="2.9" height="8.9" fill="#de464c"/>
<rect x="1708.73" y="575.9" width="2.9" height="10.1" fill="#de464c"/>
<rect x="1711.50" y="567.1" width="2.9" height="15.9" fill="#43967f"/>
<rect x="1714.27" y="550.9" width="2.9" height="25.8" fill="#43967f"/>
<rect x="1717.04" y="524.9" width="2.9" height="35.8" fill="#43967f"/>
<rect x="1719.81" y="513.4" width="2.9" height="34.6" fill="#de464c"/>
<rect x="1722.58" y="529.4" width="2.9" height="19.8" fill="#43967f"/>
<rect x="1725.35" y="531.1" width="2.9" height="19.9" fill="#de464c"/>
<rect x="1728.12" y="531.4" width="2.9" height="21.6" fill="#43967f"/>
<rect x="1730.89" y="523.2" width="2.9" height="18.1" fill="#43967f"/>
<rect x="1733.66" y="522.2" width="2.9" height="32.9" fill="#de464c"/>
<rect x="1736.43" y="539.2" width="2.9" height="93.7" fill="#de464c"/>
<rect x="1739.20" y="563.2" width="2.9" height="28.5" fill="#43967f"/>
<rect x="1741.97" y="534.0" width="2.9" height="46.1" fill="#43967f"/>
<rect x="1744.74" y="528.2" width="2.9" height="18.9" fill="#43967f"/>
<rect x="1747.51" y="447.2" width="2.9" height="88.5" fill="#43967f"/>
<rect x="1750.28" y="417.1" width="2.9" height="55.7" fill="#43967f"/>
<rect x="1753.05" y="423.9" width="2.9" height="67.0" fill="#de464c"/>
<rect x="1755.82" y="453.4" width="2.9" height="27.5" fill="#43967f"/>
<rect x="1758.59" y="448.9" width="2.9" height="39.2" fill="#de464c"/>
<rect x="1761.36" y="437.1" width="2.9" height="44.7" fill="#43967f"/>
<rect x="1764.13" y="432.0" width="2.9" height="31.6" fill="#43967f"/>
<rect x="1766.90" y="415.1" width="2.9" height="34.4" fill="#de464c"/>
<rect x="1769.67" y="439.9" width="2.9" height="29.0" fill="#de464c"/>
<rect x="1772.44" y="443.0" width="2.9" height="21.9" fill="#43967f"/>
<rect x="1775.21" y="425.9" width="2.9" height="25.0" fill="#43967f"/>
<rect x="1777.98" y="426.9" width="2.9" height="26.0" fill="#de464c"/>
<rect x="1780.75" y="442.1" width="2.9" height="19.8" fill="#de464c"/>
<rect x="1783.52" y="448.9" width="2.9" height="33.8" fill="#de464c"/>
<rect x="1786.29" y="459.0" width="2.9" height="33.8" fill="#de464c"/>
<rect x="1789.06" y="459.0" width="2.9" height="27.9" fill="#43967f"/>
<rect x="1791.83" y="453.9" width="2.9" height="26.0" fill="#de464c"/>
<rect x="1794.60" y="472.9" width="2.9" height="19.9" fill="#43967f"/>
<rect x="1797.37" y="461.0" width="2.9" height="27.0" fill="#de464c"/>
<rect x="1800.14" y="452.3" width="2.9" height="34.6" fill="#43967f"/>
<rect x="1802.91" y="441.1" width="2.9" height="25.8" fill="#43967f"/>
<rect x="1805.68" y="447.0" width="2.9" height="33.9" fill="#de464c"/>
<rect x="1808.45" y="474.0" width="2.9" height="30.1" fill="#de464c"/>
<rect x="1811.22" y="481.8" width="2.9" height="25.2" fill="#de464c"/>
<rect x="1813.99" y="504.1" width="2.9" height="26.7" fill="#43967f"/>
<rect x="1816.76" y="499.0" width="2.9" height="35.8" fill="#de464c"/>
<rect x="1819.53" y="509.2" width="2.9" height="29.9" fill="#43967f"/>
<rect x="1822.30" y="495.3" width="2.9" height="36.6" fill="#43967f"/>
<rect x="1825.07" y="485.0" width="2.9" height="38.2" fill="#43967f"/>
<rect x="1827.84" y="463.9" width="2.9" height="22.8" fill="#43967f"/>
<rect x="1830.61" y="461.9" width="2.9" height="17.7" fill="#de464c"/>
<rect x="1833.38" y="461.0" width="2.9" height="43.1" fill="#de464c"/>
<rect x="1836.15" y="466.1" width="2.9" height="43.9" fill="#43967f"/>
<rect x="1838.92" y="448.0" width="2.9" height="22.8" fill="#43967f"/>
<rect x="1841.69" y="448.0" width="2.9" height="32.9" fill="#de464c"/>
<rect x="1844.46" y="461.9" width="2.9" height="24.1" fill="#de464c"/>
<rect x="1847.23" y="455.1" width="2.9" height="26.7" fill="#43967f"/>
<rect x="1850.00" y="458.0" width="2.9" height="27.0" fill="#de464c"/>
<rect x="1852.77" y="459.0" width="2.9" height="27.0" fill="#de464c"/>
<rect x="1855.54" y="470.3" width="2.9" height="30.7" fill="#43967f"/>
<rect x="1858.31" y="455.1" width="2.9" height="32.9" fill="#43967f"/>
<rect x="1861.08" y="450.1" width="2.9" height="32.1" fill="#de464c"/>
<rect x="1863.85" y="466.1" width="2.9" height="21.9" fill="#de464c"/>
<rect x="1866.62" y="472.0" width="2.9" height="16.0" fill="#de464c"/>
<rect x="1869.39" y="450.9" width="2.9" height="30.9" fill="#43967f"/>
<rect x="1872.16" y="418.1" width="2.9" height="36.5" fill="#43967f"/>
<rect x="1874.93" y="397.2" width="2.9" height="30.1" fill="#43967f"/>
<rect x="1877.70" y="403.9" width="2.9" height="23.4" fill="#de464c"/>
<rect x="1880.47" y="403.3" width="2.9" height="33.5" fill="#de464c"/>
<rect x="1883.24" y="414.1" width="2.9" height="25.9" fill="#de464c"/>
<rect x="1886.01" y="396.1" width="2.9" height="37.6" fill="#43967f"/>
<rect x="1888.78" y="380.9" width="2.9" height="33.8" fill="#43967f"/>
<rect x="1891.55" y="393.2" width="2.9" height="24.7" fill="#de464c"/>
<rect x="1894.32" y="398.9" width="2.9" height="26.8" fill="#de464c"/>
<rect x="1897.09" y="403.0" width="2.9" height="22.7" fill="#43967f"/>
<rect x="1899.86" y="390.9" width="2.9" height="20.0" fill="#de464c"/>
<rect x="1902.63" y="383.0" width="2.9" height="24.7" fill="#43967f"/>
<rect x="1905.40" y="386.2" width="2.9" height="42.7" fill="#de464c"/>
<rect x="1908.17" y="389.4" width="2.9" height="14.6" fill="#43967f"/>
<rect x="1910.94" y="366.2" width="2.9" height="28.6" fill="#43967f"/>
<rect x="1913.71" y="352.9" width="2.9" height="21.9" fill="#43967f"/>
<rect x="1916.48" y="350.1" width="2.9" height="21.8" fill="#43967f"/>
<rect x="1919.25" y="312.2" width="2.9" height="36.7" fill="#43967f"/>
<rect x="1922.02" y="279.2" width="2.9" height="41.2" fill="#43967f"/>
<rect x="1924.79" y="270.3" width="2.9" height="42.5" fill="#43967f"/>
<rect x="1927.56" y="179.9" width="2.9" height="36.9" fill="#43967f"/>
<rect x="1930.33" y="141.8" width="2.9" height="75.0" fill="#43967f"/>
<rect x="1928.26" y="216.8" width="1.5" height="53.5" fill="#43967f"/>
</g>
<line x1="395.3" y1="611.2" x2="2159.3" y2="86" stroke="#ef9d35" stroke-width="3.2" stroke-linecap="round"/>
<rect x="187" y="302.6" width="2021" height="3.4" fill="#000"/>
<g stroke="#ef9d35" stroke-width="2.3" stroke-linecap="butt"><line x1="1918.5" y1="279" x2="1935.3" y2="280"/><line x1="1931" y1="272.5" x2="1923" y2="325"/></g>
<g shape-rendering="crispEdges">
<rect x="1919.25" y="312.2" width="2.9" height="36.7" fill="#43967f"/>
<rect x="1922.02" y="279.2" width="2.9" height="41.2" fill="#43967f"/>
<rect x="1924.79" y="270.3" width="2.9" height="42.5" fill="#43967f"/>
</g>
<g><circle cx="345.4" cy="562.7" r="18.2" fill="#ef9d35"/><g stroke="#ef9d35" stroke-width="3.2" fill="none"><line x1="323.8" y1="549.4" x2="333.4" y2="539.7"/><line x1="357.2" y1="539.7" x2="366.8" y2="549.4"/></g><path d="M347.4 554.4V564.2H339.5" stroke="#fff" stroke-width="3" fill="none"/></g>
<g fill="#0f0f0f"><path d="M222 746.8H258V791.8H240V764.6H222Z"/><circle cx="273" cy="755.7" r="9"/><path d="M290 746.8H312L295 791.8H273Z"/></g>
<g><circle cx="1931.4" cy="796.4" r="36" fill="#fff"/>
<path d="M1959.14 787.12A29.25 29.25 0 1 1 1940.92 768.74" stroke="#8b30a9" stroke-width="4.6" fill="none"/>
<path d="M1938.9 780.3L1940.9 782.9L1932.1 794.9H1944.4L1923.7 813.1L1921.3 810.7L1931.3 798.1H1918.7Z" fill="#8b30a9"/>
<circle cx="1952.2" cy="775.8" r="7.5" fill="#df464d"/></g>
<g><circle cx="240" cy="50.9" r="27" fill="#adabb8" stroke="#9d9ba8" stroke-width="1"/><path d="M235.25 38.9H244.7L250.2 48H229.8Z M225.1 50.9H234.1L239.4 60H219.65Z M246.1 50.9H255.1L260.4 60H240.6Z" fill="#fff"/></g>
<text transform="translate(279.18 67.90) scale(0.9305 1)" font-size="49.20" font-weight="400" fill="#131722" letter-spacing="0.000" >CFDs</text>
<text transform="translate(409.13 67.90) scale(1.0260 1)" font-size="49.20" font-weight="400" fill="#131722" letter-spacing="-0.000" >on</text>
<text transform="translate(476.59 67.90) scale(0.9690 1)" font-size="49.20" font-weight="400" fill="#131722" letter-spacing="0.000" >Silver</text>
<text transform="translate(612.15 67.90) scale(0.9353 1)" font-size="49.20" font-weight="400" fill="#131722" letter-spacing="0.000" >(US$</text>
<text transform="translate(733.00 67.90) scale(1.1200 1)" font-size="49.20" font-weight="400" fill="#131722" letter-spacing="0.000" >/</text>
<text transform="translate(757.72 67.90) scale(0.9770 1)" font-size="49.20" font-weight="400" fill="#131722" letter-spacing="0.000" >OZ)</text>
<text transform="translate(878.66 67.90) scale(1.0237 1)" font-size="49.20" font-weight="400" fill="#131722" letter-spacing="-0.000" >1M</text>
<text transform="translate(983.96 67.90) scale(0.9432 1)" font-size="49.20" font-weight="400" fill="#131722" letter-spacing="0.000" >TVC</text>
<text x="859" y="67.9" font-size="49.2" text-anchor="middle" fill="#131722">·</text>
<text x="966.5" y="67.9" font-size="49.2" text-anchor="middle" fill="#131722">·</text>
<circle cx="1134" cy="51" r="33" fill="#43967f" opacity="0.16"/><circle cx="1134" cy="51" r="15" fill="#43967f"/>
<text transform="translate(210.03 131.60) scale(1.0900 1)" font-size="38.50" font-weight="400" fill="#43967f" letter-spacing="0.747" >98.9732</text>
<text transform="translate(384.20 131.60) scale(1.0900 1)" font-size="38.50" font-weight="400" fill="#43967f" letter-spacing="0.657" >+2.8022</text>
<text transform="translate(553.65 131.60) scale(1.0900 1)" font-size="38.50" font-weight="400" fill="#43967f" letter-spacing="0.001" >(+2.91%)</text>
<g clip-path="url(#paxis)">
<text transform="translate(2243.70 111.40) scale(1.0359 1)" font-size="36.80" font-weight="400" fill="#131722" letter-spacing="0.000" >120.0000</text>
<text transform="translate(2236.47 428.70) scale(1.0888 1)" font-size="36.80" font-weight="400" fill="#131722" letter-spacing="0.000" >30.0000</text>
<text transform="translate(2235.69 545.80) scale(1.0900 1)" font-size="36.80" font-weight="400" fill="#131722" letter-spacing="0.096" >18.0000</text>
<text transform="translate(2234.94 639.20) scale(1.0900 1)" font-size="36.80" font-weight="400" fill="#131722" letter-spacing="0.211" >12.0000</text>
<text transform="translate(2234.51 732.70) scale(1.0900 1)" font-size="36.80" font-weight="400" fill="#131722" letter-spacing="0.298" >8.0000</text>
<text transform="translate(2236.40 841.00) scale(1.0830 1)" font-size="36.80" font-weight="400" fill="#131722" letter-spacing="0.000" >5.0000</text>
</g>
<path d="M2068 117H2208V168H2068a4 4 0 0 1 -4 -4V121a4 4 0 0 1 4 -4Z" fill="#43967f"/>
<path d="M2211 117H2393a4 4 0 0 1 4 4V206a4 4 0 0 1 -4 4H2211Z" fill="#43967f"/>
<text transform="translate(2076.18 156.10) scale(0.9072 1)" font-size="36.90" font-weight="400" fill="#fff" letter-spacing="0.000" >SILVER</text>
<text transform="translate(2234.92 156.30) scale(1.0900 1)" font-size="36.80" font-weight="400" fill="#fff" letter-spacing="0.169" >98.9732</text>
<text transform="translate(2234.70 198.00) scale(1.0852 1)" font-size="36.80" font-weight="400" fill="rgba(255,255,255,0.72)" letter-spacing="0.000" >7d 16h</text>
<path d="M2211 279H2393a4 4 0 0 1 4 4V326a4 4 0 0 1 -4 4H2211Z" fill="#000"/>
<text transform="translate(2235.83 317.50) scale(1.0900 1)" font-size="36.80" font-weight="400" fill="#fff" letter-spacing="0.075" >48.9310</text>
<rect x="2221.2" y="13.2" width="201.4" height="74.8" rx="10" fill="#fff" stroke="#ececec" stroke-width="2.5"/>
<text transform="translate(2230.72 62.60) scale(0.9835 1)" font-size="36.60" font-weight="400" fill="#0b0b0b" letter-spacing="0.000" >USD</text>
<path d="M2394.5 49.5L2401.4 56.5L2408.3 49.5" stroke="#0b0b0b" stroke-width="3.2" fill="none"/>
<g clip-path="url(#taxis)">
<text transform="translate(155.06 891.30) scale(1.0900 1)" font-size="37.00" font-weight="700" fill="#131722" letter-spacing="1.357" >1974</text>
<text transform="translate(321.26 891.30) scale(1.0900 1)" font-size="37.00" font-weight="700" fill="#131722" letter-spacing="1.749" >1979</text>
<text transform="translate(487.46 891.30) scale(1.0900 1)" font-size="37.00" font-weight="700" fill="#131722" letter-spacing="1.357" >1984</text>
<text transform="translate(653.66 891.30) scale(1.0900 1)" font-size="37.00" font-weight="700" fill="#131722" letter-spacing="1.749" >1989</text>
<text transform="translate(819.86 891.30) scale(1.0900 1)" font-size="37.00" font-weight="700" fill="#131722" letter-spacing="1.357" >1994</text>
<text transform="translate(986.06 891.30) scale(1.0900 1)" font-size="37.00" font-weight="700" fill="#131722" letter-spacing="1.749" >1999</text>
<text transform="translate(1153.40 891.30) scale(1.0900 1)" font-size="37.00" font-weight="700" fill="#131722" letter-spacing="1.008" >2004</text>
<text transform="translate(1319.60 891.30) scale(1.0900 1)" font-size="37.00" font-weight="700" fill="#131722" letter-spacing="1.399" >2009</text>
<text transform="translate(1485.80 891.30) scale(1.0900 1)" font-size="37.00" font-weight="700" fill="#131722" letter-spacing="1.008" >2014</text>
<text transform="translate(1652.00 891.30) scale(1.0900 1)" font-size="37.00" font-weight="700" fill="#131722" letter-spacing="1.399" >2019</text>
<text transform="translate(1818.20 891.30) scale(1.0900 1)" font-size="37.00" font-weight="700" fill="#131722" letter-spacing="1.008" >2024</text>
<text transform="translate(1984.40 891.30) scale(1.0900 1)" font-size="37.00" font-weight="700" fill="#131722" letter-spacing="1.399" >2029</text>
<text transform="translate(2150.60 891.30) scale(1.0900 1)" font-size="37.00" font-weight="700" fill="#131722" letter-spacing="1.008" >2034</text>
</g>
<path d="M2344.0 877.5L2333.8 895.3L2313.2 895.3L2303.0 877.5L2313.2 859.7L2333.8 859.7Z" stroke="#0b0b0b" stroke-width="3" fill="none" stroke-linejoin="round"/>
<circle cx="2323.5" cy="877.5" r="6" stroke="#0b0b0b" stroke-width="3" fill="none"/>
<line x1="186.5" y1="918" x2="186.5" y2="1050" stroke="#2e2e2e" stroke-width="1.2"/>
<line x1="2436.3" y1="918" x2="2436.3" y2="1050" stroke="#2e2e2e" stroke-width="1.2"/>
<g clip-path="url(#tb)">
<text transform="translate(232.71 933.75) scale(0.8835 1)" font-size="52.30" font-weight="400" fill="#1d1d1d" letter-spacing="0.000" >TOTAL2</text>
<text transform="translate(223.81 1072.25) scale(0.9260 1)" font-size="52.30" font-weight="400" fill="#1d1d1d" letter-spacing="0.000" >GOLD</text>
</g>
<text transform="translate(222.38 1003.00) scale(0.8925 1)" font-size="52.30" font-weight="400" fill="#dcdcdc" letter-spacing="0.000" stroke="#dcdcdc" stroke-width="0.7">SILVER</text>
<text transform="translate(474.77 1003.00) scale(0.9359 1)" font-size="52.30" font-weight="400" fill="#a8a8a8" letter-spacing="0.000" stroke="#a8a8a8" stroke-width="0.7">1M</text>
<g stroke="#d9d9d9" stroke-width="4.6" fill="none" stroke-linecap="round" stroke-linejoin="round">
<path d="M690.5 982L717.1 955.05Q719.9 952.2 722.7 955L727.9 960.2Q730.7 963 727.9 965.85L701.6 993.1L687.6 997.4Z"/>
<path d="M690.5 982L701.6 993.1"/>
<path d="M681.5 999.9C677.5 1001.5 674.5 1005.5 675.1 1009.2C675.7 1012.5 679.5 1014.2 683.7 1013.7C691 1012.8 699 1006 709.5 1003.5C719 1001.5 727 1006.5 730.7 1014.6"/>
</g>
<g stroke="#d9d9d9" stroke-width="4.6" fill="none" stroke-linejoin="miter">
<path d="M819 978.7L835.2 965.1L847.7 975.9L869.9 955.4" stroke-linejoin="round"/>
<path d="M821.2 1008.9V1000.6a2.5 2.5 0 0 1 2.5-2.5H834.8"/>
<path d="M834.8 1008.9V991.6a2.5 2.5 0 0 1 2.5-2.5H844.1a2.5 2.5 0 0 1 2.5 2.5V1008.9"/>
<path d="M846.6 995.2H858.8"/>
<path d="M858.8 1008.9V982.7a2.5 2.5 0 0 1 2.5-2.5H868.5a2.5 2.5 0 0 1 2.5 2.5V1008.9"/>
<path d="M819 1008.9H873.2"/>
</g>
<g stroke="#d9d9d9" stroke-width="4.6" fill="none">
<rect x="966.8" y="961.3" width="17.6" height="17.6" rx="4.500"/>
<rect x="966.8" y="988.9" width="17.6" height="17.6" rx="4.500"/>
<rect x="995.2" y="961.3" width="17.6" height="17.6" rx="4.500"/>
<rect x="995.2" y="988.9" width="17.6" height="17.6" rx="4.500"/>
</g>
<path d="M1106.2 996.9L1120.4 984.3L1134.9 996.9" stroke="#d9d9d9" stroke-width="12.8" fill="none" stroke-linecap="round" stroke-linejoin="miter"/>
<path d="M1106.2 996.9L1120.4 984.3L1134.9 996.9" stroke="#000" stroke-width="4.2" fill="none" stroke-linecap="round" stroke-linejoin="miter"/>
<path d="M1133.1 969.6L1147.3 982.3L1162.1 969.6" stroke="#d9d9d9" stroke-width="12.8" fill="none" stroke-linecap="round" stroke-linejoin="miter"/>
<path d="M1133.1 969.6L1147.3 982.3L1162.1 969.6" stroke="#000" stroke-width="4.2" fill="none" stroke-linecap="round" stroke-linejoin="miter"/>
<g stroke="#d9d9d9" stroke-width="4.6" fill="none" stroke-linecap="round"><circle cx="1278" cy="984" r="30.700"/><path d="M1261.500 984H1294.500M1278 967.500V1000.500"/></g>
<g stroke="#d0d3de" stroke-width="4.6" fill="none">
<path d="M1443.72 974.70A24.6 24.6 0 1 1 1433.55 964.53"/>
<path d="M1390.500 970L1405 955.700"/><path d="M1423.700 973.500V990H1410"/>
</g>
<circle cx="1446.2" cy="960" r="9" fill="#df464d"/>
<g stroke="#d9d9d9" stroke-width="4.6" fill="none">
<rect x="1551.500" y="966" width="10" height="36.700"/><path d="M1556.500 954.500V966M1556.500 1002.700V1013.700"/>
<rect x="1575.500" y="974.700" width="10.200" height="20"/><path d="M1580.600 963V974.700M1580.600 994.700V1005"/>
</g>
<g stroke="#d9d9d9" stroke-width="4.6" fill="none" stroke-linejoin="miter">
<path d="M1706.500 969.500V1002L1688.500 985.700Z"/><path d="M1730.500 969.500V1002L1712.500 985.700Z"/>
</g>
<g stroke="#d9d9d9" stroke-width="4.6" fill="none" stroke-linejoin="miter">
<path d="M1854 959.500L1883 977.500 1854 994 1825 977.500Z"/><path d="M1823.500 995.500L1854 1011.500 1884.500 995.500"/>
</g>
<g stroke="#d9d9d9" stroke-width="4.6" fill="none">
<circle cx="1974.2" cy="983.800" r="6.200"/>
<circle cx="1998" cy="983.800" r="6.200"/>
<circle cx="2022" cy="983.800" r="6.200"/>
</g>
<line x1="2082.500" y1="957" x2="2082.500" y2="1010.700" stroke="#3a3a3a" stroke-width="1.500"/>
<g stroke="#d9d9d9" stroke-width="4.6" fill="none" stroke-linejoin="miter">
<path d="M2161 970.500L2150 981.700 2161 992.500"/><path d="M2150 981.700H2166a14.500 14.500 0 0 1 14.500 14.500V998.700"/>
</g>
<g stroke="#d9d9d9" stroke-width="4.6" fill="none">
<path d="M2283.300 974V966a10 10 0 0 1 10 -10H2301"/><path d="M2321 956H2328.700a10 10 0 0 1 10 10V974"/><path d="M2338.700 994V1001.700a10 10 0 0 1 -10 10H2321"/><path d="M2301 1011.700H2293.300a10 10 0 0 1 -10 -10V994"/>
</g>
<rect x="0" y="1050" width="2622" height="156" fill="#050505"/>
<rect x="0" y="1049.700" width="2622" height="1.600" fill="#4a4a4a"/>
<g stroke="#dedede" stroke-width="5.4" fill="none"><path d="M272.6 1078.1H307.4V1122.6L290 1118.2L272.6 1122.6Z"/><path d="M280 1088.3H300.1M280 1098.3H300.1M280 1108.3H300.1" stroke-width="5.2"/></g>
<text transform="translate(338.59 1110.00) scale(1.0900 1)" font-size="33.20" font-weight="400" fill="#dedede" letter-spacing="0.417" stroke="#dedede" stroke-width="0.9" paint-order="stroke">Watchlist</text>
<path d="M767.8 1077H807L815.8 1095.4L787.3 1123.9L758.9 1095.1Z" fill="#d0d3de"/>
<rect x="785" y="1086.6" width="5.1" height="21.5" fill="#050505"/><rect x="781.1" y="1093.2" width="12.6" height="8.6" fill="#050505"/>
<circle cx="806.300" cy="1080.400" r="12.300" fill="#050505"/><circle cx="806.300" cy="1080.400" r="9.500" fill="#df464d"/>
<text transform="translate(833.91 1110.00) scale(1.0900 1)" font-size="33.20" font-weight="400" fill="#dedede" letter-spacing="0.370" stroke="#dedede" stroke-width="0.9" paint-order="stroke">Chart</text>
<circle cx="1220.1" cy="1098.9" r="24.3" stroke="#dedede" stroke-width="5.4" fill="none"/>
<g fill="#dedede" stroke="#dedede" stroke-width="2" stroke-linejoin="round"><path d="M1217.6 1093L1226.4 1101.100L1231.600 1087.200Z"/><path d="M1214.600 1097L1222.500 1104L1208.100 1110.800Z"/></g>
<text transform="translate(1266.53 1110.00) scale(1.0900 1)" font-size="33.20" font-weight="400" fill="#dedede" letter-spacing="0.172" stroke="#dedede" stroke-width="0.9" paint-order="stroke">Explore</text>
<g stroke="#d0d3de" stroke-width="4.9" fill="none">
<circle cx="1676.9" cy="1089.5" r="7.1"/>
<path d="M1690.500 1112.300H1706.500a2.600 2.600 0 0 0 2.600-2.800c-.500-5.500-5-9.300-11-9.300h-6c-3.500 0-5.700.800-8 2.300" stroke-linejoin="round"/>
<path d="M1666 1115.200a2.500 2.500 0 0 1-2.500-2.700c.5-5 5-8.200 10.500-8.200h5.500c5.500 0 10 3.200 10.500 8.200a2.500 2.500 0 0 1-2.500 2.700Z" fill="#050505"/>
<path d="M1700.800 1093.400a6.600 6.600 0 0 1-8.600-8"/>
</g>
<circle cx="1705.500" cy="1080.400" r="12.200" fill="#050505"/><circle cx="1705.500" cy="1080.400" r="9.600" fill="#df464d"/>
<text transform="translate(1733.91 1110.00) scale(1.0900 1)" font-size="33.20" font-weight="400" fill="#dedede" letter-spacing="0.363" stroke="#dedede" stroke-width="0.9" paint-order="stroke">Community</text>
<g stroke="#dedede" stroke-width="3.600"><path d="M2193.700 1083.200H2238.200M2193.700 1099.200H2238.200M2193.700 1115H2238.200"/></g>
<text transform="translate(2262.03 1110.00) scale(1.0900 1)" font-size="33.20" font-weight="400" fill="#dedede" letter-spacing="0.474" stroke="#dedede" stroke-width="0.9" paint-order="stroke">Menu</text>
<rect x="973.700" y="1167" width="675" height="15" rx="7.500" fill="#e9e9e9"/>
</svg>
</body></html>
